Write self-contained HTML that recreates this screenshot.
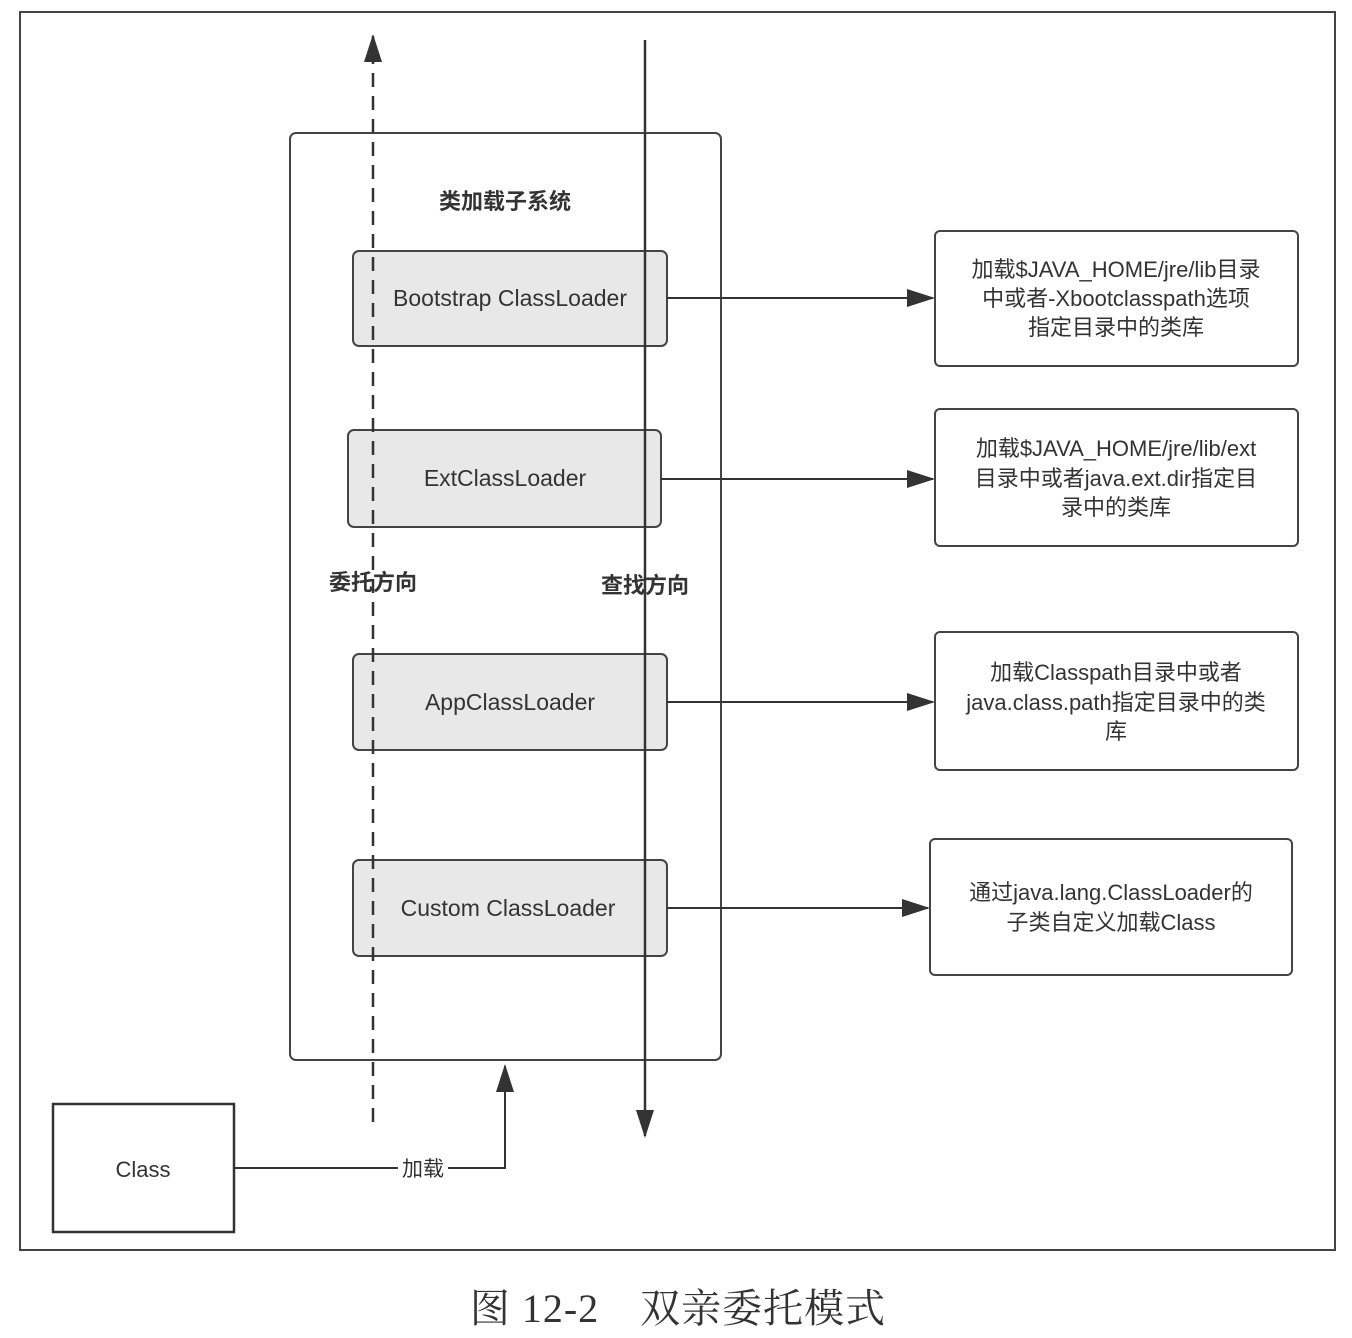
<!DOCTYPE html>
<html><head><meta charset="utf-8">
<style>
html,body{margin:0;padding:0;background:#fff;}
svg{display:block;}
text{font-family:"Liberation Sans","Noto Sans CJK SC",sans-serif;fill:#333;}
</style></head>
<body>
<svg width="1352" height="1338" viewBox="0 0 1352 1338" xmlns="http://www.w3.org/2000/svg">
<defs>
<marker id="ah2" markerWidth="28" markerHeight="18" refX="26" refY="9" orient="auto" markerUnits="userSpaceOnUse">
<path d="M0,0 L28,9 L0,18 z" fill="#333"/></marker>
</defs>
<rect x="20" y="12" width="1315" height="1238" fill="#fff" stroke="#444" stroke-width="2"/>
<rect x="290" y="133" width="431" height="927" rx="6" fill="#fff" stroke="#444" stroke-width="2"/>
<text x="505" y="209" font-size="22" font-weight="bold" text-anchor="middle">类加载子系统</text>

<g stroke="#444" stroke-width="2" fill="#e8e8e8">
<rect x="353" y="251" width="314" height="95" rx="6"/>
<rect x="348" y="430" width="313" height="97" rx="6"/>
<rect x="353" y="654" width="314" height="96" rx="6"/>
<rect x="353" y="860" width="314" height="96" rx="6"/>
</g>
<g font-size="23" text-anchor="middle">
<text x="510" y="306">Bootstrap ClassLoader</text>
<text x="505" y="486">ExtClassLoader</text>
<text x="510" y="710">AppClassLoader</text>
<text x="508" y="916">Custom ClassLoader</text>
</g>

<line x1="373" y1="1122" x2="373" y2="36" stroke="#333" stroke-width="2.5" stroke-dasharray="14,9" marker-end="url(#ah2)"/>
<line x1="645" y1="40" x2="645" y2="1136" stroke="#333" stroke-width="2.5" marker-end="url(#ah2)"/>
<text x="373" y="590" font-size="22" font-weight="bold" text-anchor="middle">委托方向</text>
<text x="645" y="593" font-size="22" font-weight="bold" text-anchor="middle">查找方向</text>

<g stroke="#333" stroke-width="2">
<line x1="667" y1="298" x2="933" y2="298" marker-end="url(#ah2)"/>
<line x1="661" y1="479" x2="933" y2="479" marker-end="url(#ah2)"/>
<line x1="667" y1="702" x2="933" y2="702" marker-end="url(#ah2)"/>
<line x1="667" y1="908" x2="928" y2="908" marker-end="url(#ah2)"/>
</g>
<g stroke="#444" stroke-width="2" fill="#fff">
<rect x="935" y="231" width="363" height="135" rx="5"/>
<rect x="935" y="409" width="363" height="137" rx="5"/>
<rect x="935" y="632" width="363" height="138" rx="5"/>
<rect x="930" y="839" width="362" height="136" rx="5"/>
</g>
<g font-size="22" text-anchor="middle">
<text x="1116" y="277">加载$JAVA_HOME/jre/lib目录</text>
<text x="1116" y="306">中或者-Xbootclasspath选项</text>
<text x="1116" y="335">指定目录中的类库</text>
<text x="1116" y="456">加载$JAVA_HOME/jre/lib/ext</text>
<text x="1116" y="486">目录中或者java.ext.dir指定目</text>
<text x="1116" y="515">录中的类库</text>
<text x="1116" y="680">加载Classpath目录中或者</text>
<text x="1116" y="710">java.class.path指定目录中的类</text>
<text x="1116" y="739">库</text>
<text x="1111" y="900">通过java.lang.ClassLoader的</text>
<text x="1111" y="930">子类自定义加载Class</text>
</g>

<rect x="53" y="1104" width="181" height="128" fill="#fff" stroke="#333" stroke-width="2.5"/>
<text x="143" y="1177" font-size="22" text-anchor="middle">Class</text>
<polyline points="234,1168 505,1168 505,1066" fill="none" stroke="#333" stroke-width="2" marker-end="url(#ah2)"/>
<rect x="398" y="1156" width="50" height="24" fill="#fff"/>
<text x="423" y="1176" font-size="21" text-anchor="middle">加载</text>

<text x="678" y="1322" font-size="40" letter-spacing="1" text-anchor="middle" style="font-family:'Liberation Serif','Noto Serif CJK SC',serif">图 12-2　双亲委托模式</text>
</svg>
</body></html>
